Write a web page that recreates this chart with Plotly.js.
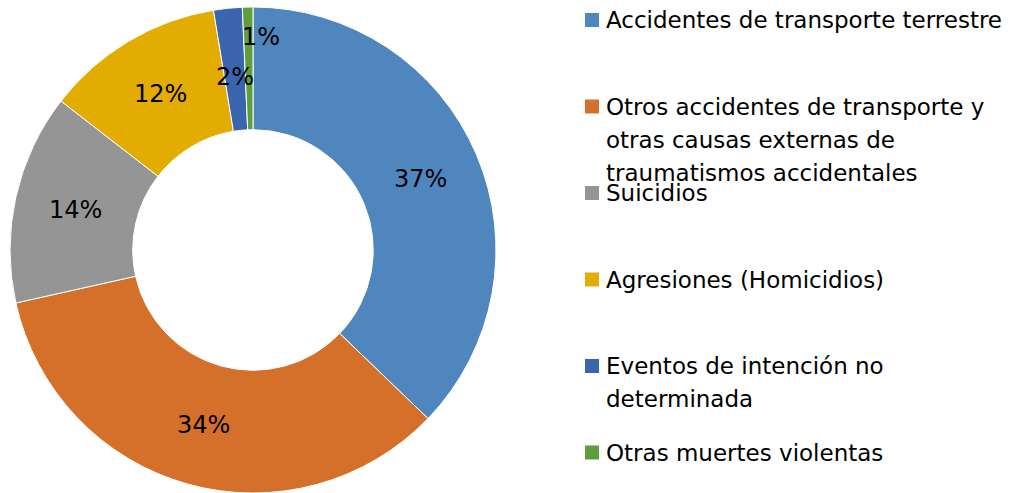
<!DOCTYPE html>
<html>
<head>
<meta charset="utf-8">
<script src="https://cdn.plot.ly/plotly-3.0.1.min.js"></script>
<style>html,body{margin:0;padding:0;background:#fff;}#chart{width:1011px;height:493px;}</style>
</head>
<body>
<div id="chart"></div>
<script>
// Data
const categories = [
  "Accidentes de transporte terrestre",
  "Otros accidentes de transporte y<br>otras causas externas de<br>traumatismos accidentales",
  "Suicidios",
  "Agresiones (Homicidios)",
  "Eventos de intención no<br>determinada",
  "Otras muertes violentas"
];
const values = [37.2, 34.3, 14.0, 11.9, 1.9, 0.7];
const colors = ["#4f86be", "#d4702a", "#959595", "#e3ac00", "#3a64ad", "#5e9e3c"];

const W = 1011, H = 493;
const cx = 253, cy = 250, R = 243, holeFrac = 0.495;
const px2x = p => p / W;
const py2y = p => 1 - p / H;

const total = values.reduce((a, b) => a + b, 0);

const trace = {
  type: 'pie',
  values: values,
  labels: categories.map(c => c.replace(/<br>/g, ' ')),
  sort: false,
  direction: 'clockwise',
  rotation: 0,
  hole: holeFrac,
  textinfo: 'none',
  hoverinfo: 'label+percent',
  marker: { colors: colors, line: { color: '#ffffff', width: 1 } },
  domain: { x: [(cx - R) / W, (cx + R) / W], y: [(H - cy - R) / H, (H - cy + R) / H] }
};

const annotations = [];
const shapes = [];

// percentage labels placed in the ring from the cumulative data angles
let cum = 0;
const rMid = (R + R * holeFrac) / 2;
values.forEach((v, i) => {
  const frac = v / total;
  const midAng = (cum + frac / 2) * 2 * Math.PI;
  cum += frac;
  let r = rMid, xa = 'center', dx = 0;
  if (frac < 0.01) { r = R - 30; xa = 'left'; dx = -8; }
  else if (frac < 0.03) { r = rMid - 8; }
  const x = cx + r * Math.sin(midAng) + dx;
  const y = cy - r * Math.cos(midAng);
  annotations.push({
    xref: 'paper', yref: 'paper', x: px2x(x), y: py2y(y),
    xanchor: xa, yanchor: 'middle', showarrow: false,
    text: Math.round(frac * 100) + '%',
    font: { family: 'DejaVu Sans', size: 24, color: '#000000' }
  });
});

// legend drawn as squares + text
const legTop = 20, legStep = 86.5, lineH = 33;
categories.forEach((c, i) => {
  const yc = legTop + legStep * i;
  shapes.push({
    type: 'rect', xref: 'paper', yref: 'paper',
    x0: px2x(585), x1: px2x(599), y0: py2y(yc - 7), y1: py2y(yc + 7),
    fillcolor: colors[i], line: { width: 0 }
  });
  c.split('<br>').forEach((ln, j) => {
    annotations.push({
      xref: 'paper', yref: 'paper', x: px2x(604), y: py2y(yc + lineH * j),
      xanchor: 'left', yanchor: 'middle', showarrow: false, text: ln,
      font: { family: 'DejaVu Sans', size: 23, color: '#000000' }
    });
  });
});

const layout = {
  width: W, height: H,
  margin: { l: 0, r: 0, t: 0, b: 0 },
  paper_bgcolor: '#ffffff',
  showlegend: false,
  annotations: annotations,
  shapes: shapes
};

Plotly.newPlot('chart', [trace], layout, { displayModeBar: false, staticPlot: true });
</script>
</body>
</html>
